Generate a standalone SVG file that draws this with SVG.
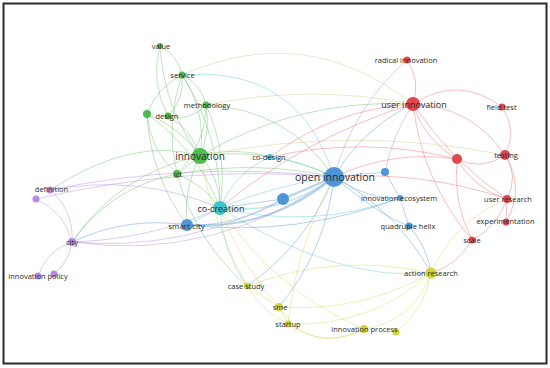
<svg xmlns="http://www.w3.org/2000/svg" width="550" height="368" viewBox="0 0 550 368">
<style>
.e path{fill:none;stroke-width:1;stroke-opacity:.45}
.eg{stroke:#6cc46c}.ec{stroke:#5ccfd6}.eb{stroke:#5b9bd5}.ep{stroke:#b48fe0}.er{stroke:#ea7070}.ey{stroke:#d6da5a}.eo{stroke:#c8d08a}
.g{fill:#4dbb4d}.c{fill:#3ec4cc}.b{fill:#4f96d8}.p{fill:#b68be6}.r{fill:#e2474d}.y{fill:#cfd43a}
text{font-family:"Open Sans","Noto Sans",sans-serif;font-size:7.5px;fill:#2a2a2a;text-anchor:middle;dominant-baseline:central}
.m{font-size:9px}.l{font-size:10px}.xl{font-size:10.5px}
</style>
<rect x="0" y="0" width="550" height="368" fill="#fff"/>
<g class="e" id="connectors">
<path class="eg" d="M160,46 Q178,55 182,75"/>
<path class="eg" d="M160,46 Q150,83 168,116"/>
<path class="eg" d="M160,46 Q163.5,107 200,156"/>
<path class="eg" d="M182,75 Q201.5,84 206,105"/>
<path class="eg" d="M182,75 Q185,99 168,116"/>
<path class="eg" d="M182,75 Q207,112 200,156"/>
<path class="eg" d="M182,75 Q164.6,123.75 177,174"/>
<path class="eg" d="M182,75 Q221,136 220,208"/>
<path class="eo" d="M182,75 Q306,20 413,104"/>
<path class="ec" d="M182,75 Q298.8,65.2 334,177"/>
<path class="eg" d="M206,105 Q210.7,131.4 200,156"/>
<path class="eg" d="M206,105 Q190.3,121.9 168,116"/>
<path class="eg" d="M206,105 Q205.3,145.3 177,174"/>
<path class="eg" d="M206,105 Q228.5,154.4 220,208"/>
<path class="eo" d="M206,105 Q309.4,83.8 413,104"/>
<path class="eg" d="M206,105 Q288,109 334,177"/>
<path class="eg" d="M168,116 Q192,129.6 200,156"/>
<path class="eg" d="M147,114 Q156.7,87.5 182,75"/>
<path class="eg" d="M147,114 Q179.8,127 200,156"/>
<path class="eg" d="M147,114 Q150,150 177,174"/>
<path class="eg" d="M147,114 Q197.6,150 220,208"/>
<path class="eg" d="M147,114 Q150.4,175.5 187,225"/>
<path class="eg" d="M200,156 L177,174"/>
<path class="eg" d="M200,156 Q235,146 270,157"/>
<path class="eg" d="M200,156 Q270,146.4 334,177"/>
<path class="eg" d="M200,156 Q220.4,178 220,208"/>
<path class="eg" d="M200,156 Q183,188.5 187,225"/>
<path class="eg" d="M200,156 Q119,173.4 72,242"/>
<path class="eg" d="M200,156 Q133.5,135.5 50,190"/>
<path class="eg" d="M200,156 Q298.7,98 413,104"/>
<path class="eo" d="M200,156 Q352.4,125 505,155"/>
<path class="eg" d="M177,174 Q203.6,184.6 220,208"/>
<path class="eg" d="M177,174 Q110.9,187 72,242"/>
<path class="eg" d="M177,174 Q255.8,159.8 334,177"/>
<path class="eg" d="M177,174 Q195.2,240.5 247,286"/>
<path class="ec" d="M220,208 Q283.2,215.3 334,177" style="stroke-width:1.5"/>
<path class="ec" d="M220,208 Q275,185 334,177"/>
<path class="ec" d="M220,208 Q234.8,172.5 270,157"/>
<path class="ec" d="M220,208 L187,225"/>
<path class="ec" d="M220,208 Q221.8,251 247,286"/>
<path class="ec" d="M220,208 Q338.5,282.7 431,273"/>
<path class="ec" d="M220,208 Q311.5,230 400,198"/>
<path class="ec" d="M270,157 Q300,160 334,177"/>
<path class="eb" d="M334,177 Q270,230.4 187,225" style="stroke-width:2"/>
<path class="eb" d="M334,177 L283,199" style="stroke-width:2"/>
<path class="eb" d="M334,177 L385,172"/>
<path class="eb" d="M334,177 Q371.2,200.7 400,198"/>
<path class="eb" d="M334,177 Q381.3,216.5 409,226"/>
<path class="eb" d="M334,177 Q362.5,128.6 413,104"/>
<path class="eb" d="M334,177 Q396.9,210.5 431,273"/>
<path class="eb" d="M334,177 Q326,250 279,307"/>
<path class="eb" d="M334,177 Q306.9,244.5 247,286"/>
<path class="eb" d="M187,225 Q127,216 72,242"/>
<path class="eb" d="M283,199 Q239,226.4 187,225"/>
<path class="eb" d="M283,199 L220,208"/>
<path class="eb" d="M385,172 L400,198"/>
<path class="eb" d="M400,198 L409,226"/>
<path class="eb" d="M409,226 Q427,246 431,273"/>
<path class="eb" d="M187,225 Q296.7,237 400,198"/>
<path class="ep" d="M334,177 Q353,107.5 407,60"/>
<path class="ep" d="M385,172 Q392.2,135.2 413,104"/>
<path class="ep" d="M334,177 Q216,262 72,242"/>
<path class="ep" d="M334,177 Q191,160.8 50,190"/>
<path class="ep" d="M50,190 Q74,210.5 72,242"/>
<path class="ep" d="M36,199 Q64.75,211.5 72,242"/>
<path class="ep" d="M72,242 Q46.5,250.5 38,276"/>
<path class="ep" d="M72,242 Q69.4,261.6 54,274"/>
<path class="ep" d="M50,190 Q137.7,173.5 220,208"/>
<path class="ep" d="M36,199 Q183.2,164.2 334,177"/>
<path class="ep" d="M72,242 Q149.4,239.8 220,208"/>
<path class="ep" d="M72,242 Q184,252 283,199"/>
<path class="er" d="M407,60 Q421,80.5 413,104"/>
<path class="er" d="M413,104 Q458.5,74.4 502,107"/>
<path class="er" d="M413,104 Q471.75,106.5 505,155"/>
<path class="er" d="M413,104 Q424,140.3 457,159"/>
<path class="er" d="M413,104 Q450.5,160.9 507,199"/>
<path class="er" d="M413,104 Q422,181 472,240"/>
<path class="er" d="M502,107 Q518,130 505,155"/>
<path class="er" d="M505,155 Q482,171.4 457,159"/>
<path class="er" d="M505,155 Q519,176 507,199"/>
<path class="er" d="M505,155 Q525.6,188.2 506,222"/>
<path class="er" d="M457,159 Q452.4,201.8 472,240"/>
<path class="er" d="M457,159 Q474,189 507,199"/>
<path class="er" d="M507,199 L506,222"/>
<path class="er" d="M507,199 Q497.7,226.5 472,240"/>
<path class="er" d="M472,240 Q458,264.7 431,273"/>
<path class="er" d="M413,104 Q333.5,109 270,157"/>
<path class="er" d="M413,104 Q306.1,136.7 220,208"/>
<path class="er" d="M457,159 Q392.8,149.5 334,177"/>
<path class="er" d="M457,159 Q363.7,135.6 270,157"/>
<path class="er" d="M507,199 Q422.7,170.7 334,177"/>
<path class="ey" d="M431,273 Q454.2,220.8 507,199"/>
<path class="ey" d="M431,273 Q360.1,312.8 279,307"/>
<path class="ey" d="M431,273 Q369.7,327.1 288,324"/>
<path class="ey" d="M431,273 Q414.3,321.1 364,329"/>
<path class="ey" d="M431,273 Q425.3,309.5 396,332"/>
<path class="ey" d="M431,273 Q337,252 247,286"/>
<path class="ey" d="M364,329 Q311.6,356 279,307"/>
<path class="ey" d="M364,329 Q324.5,349.3 288,324"/>
<path class="ey" d="M247,286 L279,307"/>
<path class="ey" d="M247,286 Q261.8,311 288,324"/>
<path class="ey" d="M279,307 L288,324"/>
<path class="ey" d="M279,307 Q239.6,263.4 220,208"/>
<path class="ey" d="M288,324 Q296.3,246 334,177"/>
<path class="ey" d="M364,329 Q273.9,290.1 220,208"/>
<path class="ey" d="M247,286 Q213,225 200,156"/>
</g>
<g id="n-value"><circle class="g" cx="160" cy="46" r="3"/><text x="161" y="46">value</text></g>
<g id="n-service"><circle class="g" cx="182" cy="75" r="3.5"/><text x="182.5" y="75">service</text></g>
<g id="n-methodology"><circle class="g" cx="206" cy="105" r="3.5"/><text x="207" y="105">methodology</text></g>
<g id="n-green5"><circle class="g" cx="147" cy="114" r="4"/></g>
<g id="n-design"><circle class="g" cx="168" cy="116" r="3.5"/><text x="167" y="116">design</text></g>
<g id="n-innovation"><circle class="g" cx="200" cy="156" r="8"/><text class="l" x="200" y="156">innovation</text></g>
<g id="n-ict"><circle class="g" cx="177" cy="174" r="4"/><text x="178" y="174">ict</text></g>
<g id="n-co-design"><circle class="c" cx="270" cy="157" r="3"/><text x="269" y="157">co-design</text></g>
<g id="n-open-innovation"><circle class="b" cx="334" cy="177" r="10"/><text class="xl" x="335" y="177">open innovation</text></g>
<g id="n-blue2"><circle class="b" cx="385" cy="172" r="4"/></g>
<g id="n-blue3"><circle class="b" cx="283" cy="199" r="6"/></g>
<g id="n-co-creation"><circle class="c" cx="220" cy="208" r="7"/><text class="m" x="221" y="208">co-creation</text></g>
<g id="n-smart-city"><circle class="b" cx="187" cy="225" r="6"/><text style="font-size:8px" x="186.5" y="225">smart city</text></g>
<g id="n-innovation-ecosystem"><circle class="b" cx="400" cy="198" r="3"/><text x="399" y="198">innovation ecosystem</text></g>
<g id="n-quadruple-helix"><circle class="b" cx="409" cy="226" r="3.5"/><text x="408" y="226">quadruple helix</text></g>
<g id="n-definition"><circle class="p" cx="50" cy="190" r="3.5"/><text x="51.5" y="189">definition</text></g>
<g id="n-purple2"><circle class="p" cx="36" cy="199" r="3.5"/></g>
<g id="n-city"><circle class="p" cx="72" cy="242" r="4"/><text x="72" y="242">city</text></g>
<g id="n-innovation-policy"><circle class="p" cx="38" cy="276" r="3.5"/><circle class="p" cx="54" cy="274" r="3.5"/><text x="38" y="276">innovation policy</text></g>
<g id="n-radical-innovation"><circle class="r" cx="407" cy="60" r="3.5"/><text x="406" y="60">radical innovation</text></g>
<g id="n-user-innovation"><circle class="r" cx="413" cy="104" r="7"/><text class="m" x="414" y="104">user innovation</text></g>
<g id="n-field-test"><circle class="r" cx="502" cy="107" r="3.5"/><text x="501.5" y="107">field test</text></g>
<g id="n-testing"><circle class="r" cx="505" cy="155" r="5"/><text x="506" y="155">testing</text></g>
<g id="n-red5"><circle class="r" cx="457" cy="159" r="5"/></g>
<g id="n-user-research"><circle class="r" cx="507" cy="199" r="4"/><text x="508" y="199">user research</text></g>
<g id="n-experimentation"><circle class="r" cx="506" cy="222" r="3.5"/><text x="505.5" y="221">experimentation</text></g>
<g id="n-scale"><circle class="r" cx="472" cy="240" r="3.5"/><text x="472" y="240">scale</text></g>
<g id="n-action-research"><circle class="y" cx="431" cy="273" r="5.5"/><text x="431" y="273">action research</text></g>
<g id="n-case-study"><circle class="y" cx="247" cy="286" r="3.5"/><text x="246" y="286">case study</text></g>
<g id="n-sme"><circle class="y" cx="279" cy="307" r="4"/><text x="280" y="307">sme</text></g>
<g id="n-startup"><circle class="y" cx="288" cy="324" r="3.5"/><text x="288" y="324">startup</text></g>
<g id="n-innovation-process"><circle class="y" cx="364" cy="329" r="4"/><circle class="y" cx="396" cy="332" r="3.5"/><text x="364.5" y="329">innovation process</text></g>
<rect x="3.5" y="3.5" width="543" height="360" fill="none" stroke="#2b2b2b" stroke-width="2"/>
</svg>
